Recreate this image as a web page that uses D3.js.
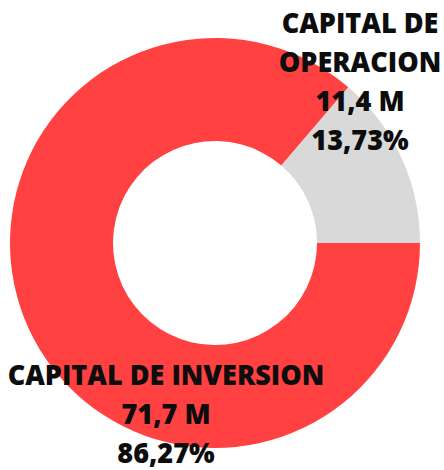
<!DOCTYPE html>
<html>
<head>
<meta charset="utf-8">
<script src="https://cdn.jsdelivr.net/npm/d3@7"></script>
<style>
  html, body { margin: 0; padding: 0; background: #fff; }
  svg { display: block; }
  text { font-family: "Open Sans", Lato, sans-serif; font-weight: 800; fill: #0d0d0d; }
</style>
</head>
<body>
<svg id="chart" width="444" height="470"></svg>
<script>
// Capital structure: investment vs operating capital
const categories = ["CAPITAL DE INVERSION", "CAPITAL DE OPERACION"];
const amounts = ["71,7 M", "11,4 M"];          // amounts in millions
const percents = [86.27, 13.73];               // share of total, %
const colors = ["#FF4141", "#D9D9D9"];

const svg = d3.select("#chart");
const cx = 215, cy = 243;
const outerR = 205, innerR = 102;

const data = categories.map((c, i) => ({ name: c, amount: amounts[i], pct: percents[i], color: colors[i] }));

const pie = d3.pie()
  .value(d => d.pct)
  .sort(null)
  .startAngle(Math.PI / 2)
  .endAngle(Math.PI / 2 + 2 * Math.PI);

const arc = d3.arc().innerRadius(innerR).outerRadius(outerR);

const g = svg.append("g").attr("transform", `translate(${cx},${cy})`);
g.selectAll("path")
  .data(pie(data))
  .join("path")
  .attr("d", arc)
  .attr("fill", d => d.data.color);

const fmtPct = v => d3.format(".2f")(v).replace(".", ",") + "%";

// label blocks: anchor x (centre) and first baseline
const labelPos = [
  { x: 166, y: 385, lines: d => [d.name, d.amount, fmtPct(d.pct)] },
  { x: 360, y: 33,  lines: d => ["CAPITAL DE", "OPERACION", d.amount, fmtPct(d.pct)] }
];
const fontSize = 28.5, lineH = 39;

data.forEach((d, i) => {
  const p = labelPos[i];
  const lg = svg.append("g").attr("transform", `translate(${p.x},${p.y})`);
  p.lines(d).forEach((t, k) => {
    lg.append("text")
      .attr("x", 0)
      .attr("y", k * lineH)
      .attr("text-anchor", "middle")
      .attr("font-size", fontSize)
      .text(t);
  });
});

// condense label glyphs horizontally to a Calibri-like width
const ref = svg.selectAll("text").filter(function () { return this.textContent === categories[0]; }).node();
const sx = 317 / ref.getComputedTextLength();
svg.selectAll("text").attr("transform", `scale(${sx},1)`);
</script>
</body>
</html>
